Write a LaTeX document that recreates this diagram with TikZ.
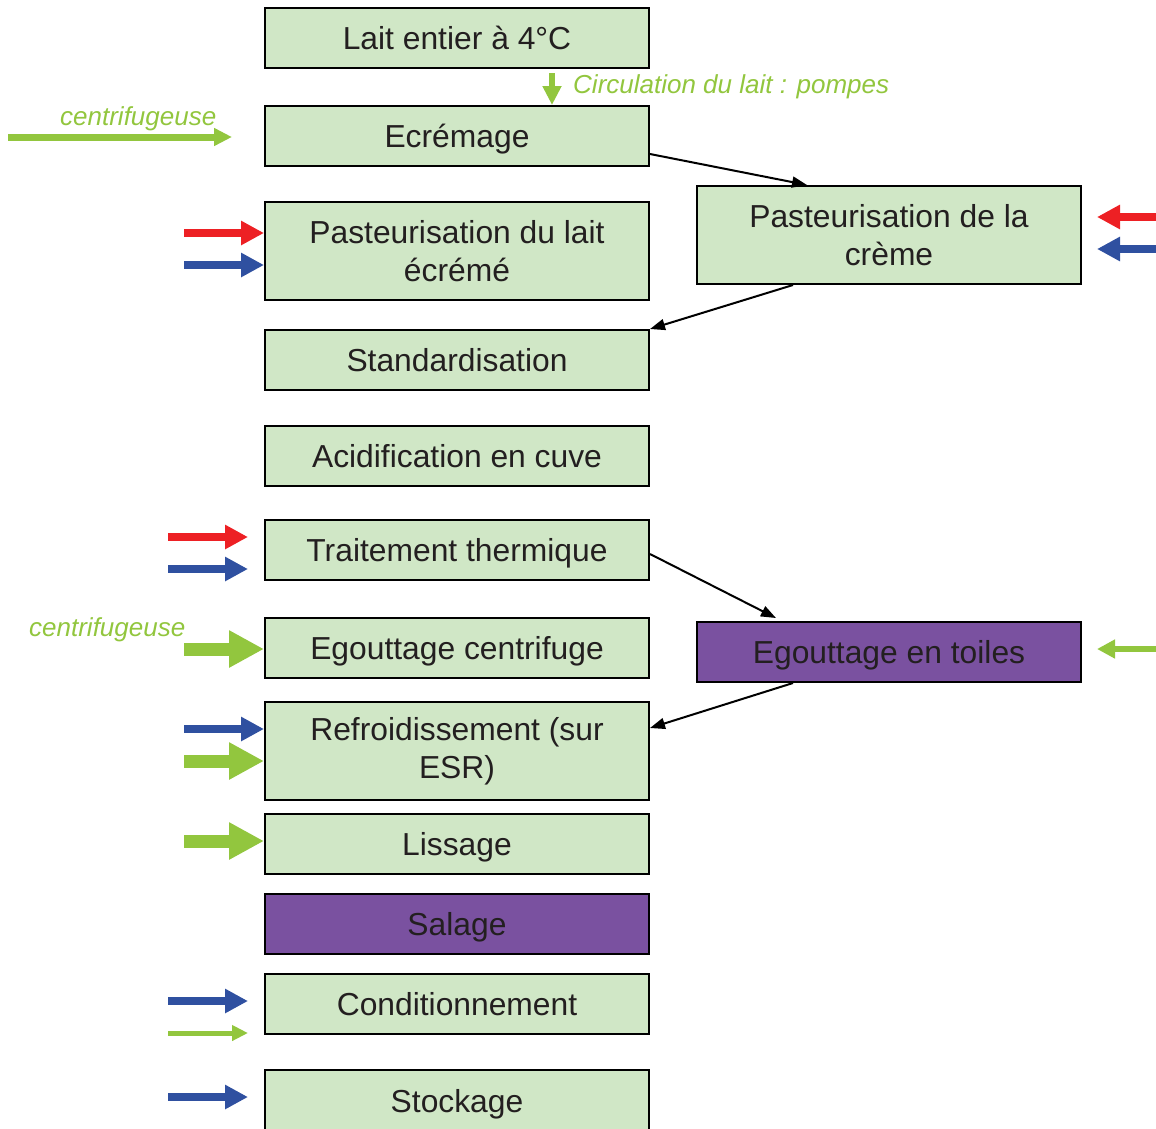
\documentclass[tikz,border=0pt]{standalone}
\usepackage{fontspec}
\setmainfont{Liberation Sans}
\usetikzlibrary{arrows.meta}
\definecolor{boxgreen}{RGB}{208,231,198}
\definecolor{boxpurple}{RGB}{122,81,160}
\definecolor{ared}{RGB}{237,32,36}
\definecolor{ablue}{RGB}{47,80,160}
\definecolor{agreen}{RGB}{146,198,62}
\definecolor{txt}{RGB}{35,31,32}
\begin{document}
\begin{tikzpicture}[x=1pt,y=-1pt,
  basebox/.style={draw=black, line width=2pt, fill=boxgreen, minimum width=384pt,
    inner sep=0pt, font=\fontsize{31.8}{38}\selectfont, text=txt, anchor=north west},
  stepbox/.style={basebox, minimum height=60pt, text height=30pt, text depth=7pt},
  tallbox/.style={basebox, minimum height=98pt, align=center},
  purplebox/.style={stepbox, fill=boxpurple},
  link/.style={line width=2pt, black, -{Triangle[length=15pt,width=11pt]}},
  lbl/.style={text=agreen, font=\fontsize{26}{30}\selectfont\itshape, inner sep=0pt},
  medarr/.style={line width=8pt, -{Triangle[length=23pt,width=23pt]}},
  bigarr/.style={line width=13pt, agreen, -{Triangle[length=35pt,width=35pt]}},
  smallarr/.style={line width=6pt, agreen, -{Triangle[length=18pt,width=18pt]}},
  tinyarr/.style={line width=5pt, agreen, -{Triangle[length=16pt,width=15pt]}}
]
\useasboundingbox (0,0) rectangle (1156,1128);

% left column
\node[stepbox] (lait) at (264,7) {Lait entier à 4°C};
\node[stepbox] (ecr) at (264,105) {Ecrémage};
\node[tallbox] (pl) at (264,201) {Pasteurisation du lait\\écrémé};
\node[stepbox] (std) at (264,329) {Standardisation};
\node[stepbox] (acid) at (264,425) {Acidification en cuve};
\node[stepbox] (tt) at (264,519) {Traitement thermique};
\node[stepbox] (egc) at (264,617) {Egouttage centrifuge};
\node[tallbox] (ref) at (264,701) {Refroidissement (sur\\ESR)};
\node[stepbox] (liss) at (264,813) {Lissage};
\node[purplebox] (sal) at (264,893) {Salage};
\node[stepbox] (cond) at (264,973) {Conditionnement};
\node[stepbox, minimum height=62pt] (stock) at (264,1069) {Stockage};

% right column
\node[tallbox] (creme) at (696,185) {Pasteurisation de la\\crème};
\node[purplebox] (toiles) at (696,621) {Egouttage en toiles};

% connectors
\draw[link] ([yshift=-18pt]ecr.east) -- ([xshift=-82pt]creme.north);
\draw[link] ([xshift=-96pt]creme.south) -- (std.north east);
\draw[link] ([yshift=-4pt]tt.east) -- ([xshift=-113pt,yshift=3pt]toiles.north);
\draw[link] ([xshift=-96pt]toiles.south) -- ([yshift=-27pt]ref.north east);

% circulation
\coordinate (circA) at (552,73);
\draw[line width=6pt, agreen, -{Triangle[length=19pt,width=18pt]}] (circA) -- (ecr.north -| circA);
\node[lbl, anchor=base west] (circ) at (573,93) {Circulation du lait : pompes};

% centrifugeuse top
\node[lbl, anchor=base west] (cf1) at (60,125) {centrifugeuse};
\coordinate (cf1s) at (8,137);
\draw[line width=7pt, agreen, -{Triangle[length=18pt,width=17pt]}] (cf1s) -- (232,137);

% pasteurisation lait
\draw[medarr, ared] (184,233) -- (pl.west |- 0,233);
\draw[medarr, ablue] (184,265) -- (pl.west |- 0,265);

% pasteurisation creme
\draw[medarr, ared] (1160,217) -- (1097,217);
\draw[medarr, ablue] (1160,249) -- (1097,249);

% traitement thermique
\draw[medarr, ared] (168,537) -- (248,537);
\draw[medarr, ablue] (168,569) -- (248,569);

% egouttage centrifuge
\node[lbl, anchor=base west] (cf2) at (29,636) {centrifugeuse};
\draw[bigarr] (184,649) -- (egc.west |- 0,649);

% egouttage toiles
\draw[smallarr] (1160,649) -- (1097,649);

% refroidissement
\draw[medarr, ablue] (184,729) -- (ref.west |- 0,729);
\draw[bigarr] (184,761) -- (ref.west |- 0,761);

% lissage
\draw[bigarr] (184,841) -- (liss.west |- 0,841);

% conditionnement
\draw[medarr, ablue] (168,1001) -- (248,1001);
\draw[tinyarr] (168,1033) -- (248,1033);

% stockage
\draw[medarr, ablue] (168,1097) -- (248,1097);
\end{tikzpicture}
\end{document}
